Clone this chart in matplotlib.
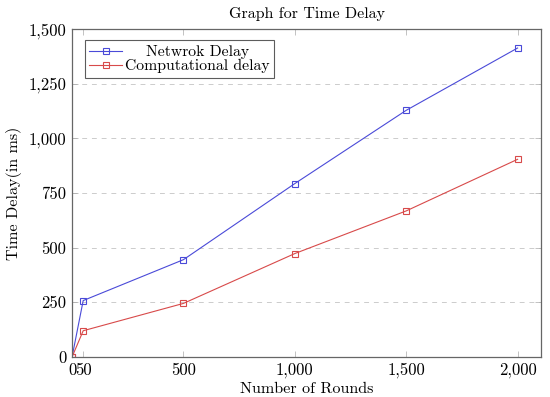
import matplotlib
matplotlib.use("Agg")
import matplotlib.pyplot as plt
from matplotlib.ticker import FuncFormatter, FixedLocator

plt.rcParams['font.family'] = ['cmr10', 'DejaVu Serif']
plt.rcParams['axes.formatter.use_mathtext'] = True

rounds = [0, 50, 500, 1000, 1500, 2000]
network_delay = [0, 258, 445, 793, 1128, 1413]
computational_delay = [0, 120, 245, 473, 668, 904]
x_ticks = [0, 50, 500, 1000, 1500, 2000]
y_ticks = [0, 250, 500, 750, 1000, 1250, 1500]
series_labels = ['Netwrok Delay', 'Computational delay']

fig = plt.figure(figsize=(5.5, 3.97), dpi=100)
ax = fig.add_axes([0.131, 0.1008, 0.8526, 0.8262])

blue = '#4a4ad8'
red = '#d84a4a'
ax.plot(rounds, network_delay, color=blue, lw=0.8, marker='s', ms=4.5,
        mfc='none', mec=blue, mew=0.8, label='    ' + series_labels[0])
ax.plot(rounds, computational_delay, color=red, lw=0.8, marker='s', ms=4.5,
        mfc='none', mec=red, mew=0.8, label=series_labels[1])

ax.set_xlim(0, 2105)
ax.set_ylim(0, 1500)
ax.xaxis.set_major_locator(FixedLocator(x_ticks))
ax.yaxis.set_major_locator(FixedLocator(y_ticks))
fmt = FuncFormatter(lambda v, p: f"{v:,.0f}")
ax.xaxis.set_major_formatter(fmt)
ax.yaxis.set_major_formatter(fmt)

ax.yaxis.grid(True, linestyle=(0, (5, 5)), color='#cccccc', lw=0.7)
ax.set_axisbelow(True)
ax.tick_params(axis='both', direction='in', length=4, width=0.5, color='#aaaaaa',
               labelsize=12, top=True, right=True)
ax.tick_params(axis='x', pad=4)
ax.tick_params(axis='y', pad=4)
for s in ax.spines.values():
    s.set_color('#666666')
    s.set_linewidth(0.9)

ax.set_title('Graph for Time Delay', fontsize=11.5, pad=8)
ax.set_xlabel('Number of Rounds', fontsize=11.6, labelpad=3)
ax.set_ylabel('Time Delay(in ms)', fontsize=11.6, labelpad=5)

leg = ax.legend(loc='upper left', bbox_to_anchor=(0.02, 0.975), fontsize=11.3,
                frameon=True, fancybox=False, edgecolor='#333333',
                handlelength=2.1, handletextpad=0.15, borderpad=0.3,
                labelspacing=0.0, borderaxespad=0.2)
leg.get_frame().set_linewidth(0.8)

fig.savefig('out.png', dpi=100)
